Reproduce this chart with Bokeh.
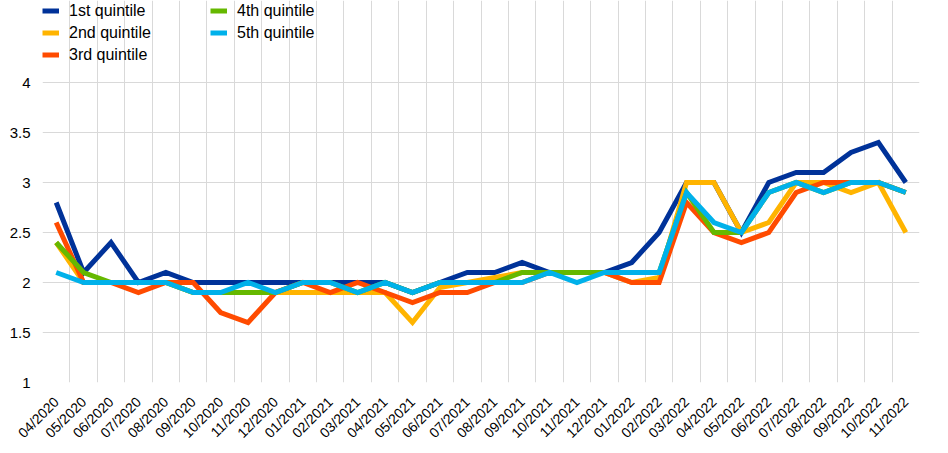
from math import pi
from bokeh.plotting import figure
from bokeh.models import FixedTicker, Legend, LegendItem, NumeralTickFormatter, Range1d
from bokeh.embed import file_html
from bokeh.resources import INLINE

months = ["04/2020", "05/2020", "06/2020", "07/2020", "08/2020", "09/2020", "10/2020", "11/2020",
          "12/2020", "01/2021", "02/2021", "03/2021", "04/2021", "05/2021", "06/2021", "07/2021",
          "08/2021", "09/2021", "10/2021", "11/2021", "12/2021", "01/2022", "02/2022", "03/2022",
          "04/2022", "05/2022", "06/2022", "07/2022", "08/2022", "09/2022", "10/2022", "11/2022"]

q1 = [2.8, 2.1, 2.4, 2.0, 2.1, 2.0, 2.0, 2.0, 2.0, 2.0, 2.0, 2.0, 2.0, 1.9, 2.0, 2.1,
      2.1, 2.2, 2.1, 2.1, 2.1, 2.2, 2.5, 3.0, 3.0, 2.5, 3.0, 3.1, 3.1, 3.3, 3.4, 3.0]
q2 = [2.4, 2.0, 2.0, 2.0, 2.0, 1.9, 1.9, 1.9, 1.9, 1.9, 1.9, 1.9, 1.9, 1.6, 1.95, 2.0,
      2.05, 2.1, 2.1, 2.1, 2.1, 2.0, 2.05, 3.0, 3.0, 2.5, 2.6, 3.0, 3.0, 2.9, 3.0, 2.5]
q3 = [2.6, 2.0, 2.0, 1.9, 2.0, 2.0, 1.7, 1.6, 1.9, 2.0, 1.9, 2.0, 1.9, 1.8, 1.9, 1.9,
      2.0, 2.0, 2.1, 2.1, 2.1, 2.0, 2.0, 2.8, 2.5, 2.4, 2.5, 2.9, 3.0, 3.0, 3.0, 2.9]
q4 = [2.4, 2.1, 2.0, 2.0, 2.0, 1.9, 1.9, 1.9, 1.9, 2.0, 2.0, 1.9, 2.0, 1.9, 2.0, 2.0,
      2.0, 2.1, 2.1, 2.1, 2.1, 2.1, 2.1, 2.9, 2.5, 2.5, 2.9, 3.0, 2.9, 3.0, 3.0, 2.9]
q5 = [2.1, 2.0, 2.0, 2.0, 2.0, 1.9, 1.9, 2.0, 1.9, 2.0, 2.0, 1.9, 2.0, 1.9, 2.0, 2.0,
      2.0, 2.0, 2.1, 2.0, 2.1, 2.1, 2.1, 2.9, 2.6, 2.5, 2.9, 3.0, 2.9, 3.0, 3.0, 2.9]

labels = ["1st quintile", "2nd quintile", "3rd quintile", "4th quintile", "5th quintile"]
colors = ["#003299", "#FFB400", "#FF4B00", "#65B800", "#00B1EA"]
y_ticks = [1, 1.5, 2, 2.5, 3, 3.5, 4]

FONT = "Liberation Sans"
n = len(months)
x = list(range(n))
y_lo, y_hi = y_ticks[0], y_ticks[-1]

# frame spans the legend area as well; 100 px per unit on the y axis
p = figure(width=940, height=450, output_backend="svg", toolbar_location=None,
           x_range=Range1d(-0.5, n - 0.5), y_range=Range1d(y_lo, y_hi + 0.82),
           min_border_left=42, min_border_right=21, min_border_top=0, min_border_bottom=68)
p.outline_line_color = None
p.background_fill_color = "white"

renderers = []
for lab, ser, col in zip(labels, [q1, q2, q3, q4, q5], colors):
    r = p.line(x, ser, line_color=col, line_width=5, line_join="miter")
    renderers.append(r)

# grids
p.xgrid.ticker = FixedTicker(ticks=[i - 0.5 for i in range(n + 1)])
p.xgrid.bounds = (y_lo, y_hi)
p.ygrid.ticker = FixedTicker(ticks=y_ticks)
for g in (p.xgrid, p.ygrid):
    g.grid_line_color = "#d9d9d9"
    g.grid_line_width = 1

# axes
p.xaxis.ticker = FixedTicker(ticks=x)
p.xaxis.major_label_overrides = {i: m for i, m in enumerate(months)}
p.xaxis.major_label_orientation = pi / 4
p.yaxis.ticker = FixedTicker(ticks=y_ticks)
p.yaxis.formatter = NumeralTickFormatter(format="0.[0]")
for ax in (p.xaxis, p.yaxis):
    ax.axis_line_color = None
    ax.major_tick_line_color = None
    ax.minor_tick_line_color = None
    ax.major_tick_out = 0
    ax.major_tick_in = 0
    ax.major_label_text_font = FONT
    ax.major_label_text_color = "#000000"
p.yaxis.major_label_text_font_size = "15px"
p.xaxis.major_label_text_font_size = "14px"
p.yaxis.major_label_standoff = 12
p.xaxis.major_label_standoff = 17

legend = Legend(items=[LegendItem(label=l, renderers=[r]) for l, r in zip(labels, renderers)],
                location="top_left", orientation="vertical", nrows=3,
                padding=0, margin=0, spacing=1,
                glyph_width=17, glyph_height=21, label_height=21, label_width=140,
                label_standoff=10, label_text_font=FONT, label_text_font_size="16px",
                label_text_color="#000000",
                border_line_color=None, background_fill_alpha=0)
p.add_layout(legend)

open("out.html", "w").write(file_html(p, INLINE))
